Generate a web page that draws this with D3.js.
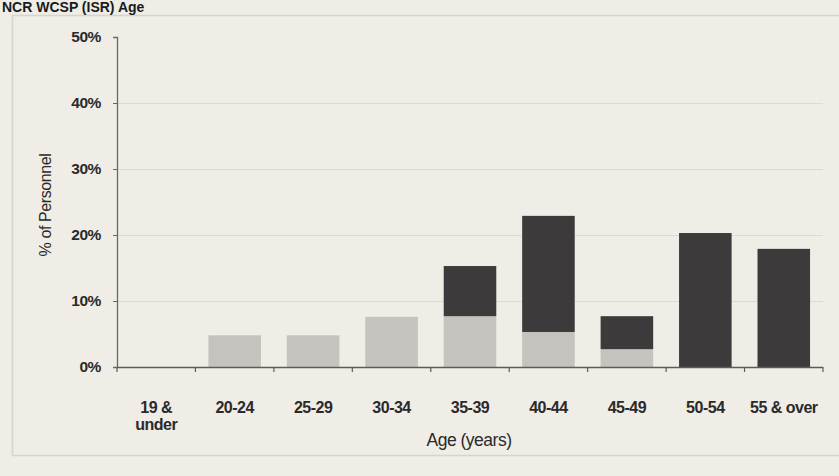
<!DOCTYPE html>
<html>
<head>
<meta charset="utf-8">
<script src="https://cdn.jsdelivr.net/npm/d3@7"></script>
<style>
  html, body { margin: 0; padding: 0; background: #efede6; }
  svg { display: block; }
</style>
</head>
<body>
<svg id="chart" width="839" height="476"></svg>
<script>
// ---- Data ----
const categories = ["19 & under", "20-24", "25-29", "30-34", "35-39", "40-44", "45-49", "50-54", "55 & over"];
const lightValues = [0, 4.8, 4.8, 7.6, 7.7, 5.3, 2.7, 0, 0];
const darkValues  = [0, 0, 0, 0, 7.6, 17.6, 5.0, 20.3, 17.9];
const yTicks = [0, 10, 20, 30, 40, 50];
const seriesNames = ["light", "dark"];
const titleText = "NCR WCSP (ISR) Age";
const yLabel = "% of Personnel";
const xLabel = "Age (years)";

// ---- Layout ----
const svg = d3.select("#chart");
const W = 839, H = 476;
const margin = { left: 117, right: 16, top: 37, bottom: 109 };
const plotW = W - margin.left - margin.right;
const plotH = H - margin.top - margin.bottom;

const font = "'Liberation Sans Narrow', 'Arial Narrow', 'Liberation Sans', Arial, sans-serif";

svg.append("rect").attr("width", W).attr("height", H).attr("fill", "#efede6");

// panel border
svg.append("rect")
  .attr("x", 12.5).attr("y", 15.5)
  .attr("width", W).attr("height", 440)
  .attr("fill", "none").attr("stroke", "#d6d4cd").attr("stroke-width", 1.5);

// title
svg.append("text")
  .attr("x", 2).attr("y", 12)
  .attr("font-family", "'Liberation Sans', Arial, sans-serif")
  .attr("font-weight", "bold")
  .attr("font-size", 14)
  .attr("fill", "#1a1a1a")
  .text(titleText);

const g = svg.append("g").attr("transform", `translate(${margin.left},${margin.top})`);

const x = d3.scaleBand().domain(categories).range([0, plotW]).paddingInner(0.33).paddingOuter(0.165);
const y = d3.scaleLinear().domain([0, 50]).range([plotH, 0]);

// gridlines
g.append("g").selectAll("line")
  .data(yTicks.filter(t => t > 0 && t < 50))
  .join("line")
  .attr("x1", 0).attr("x2", plotW)
  .attr("y1", d => y(d) + 0.5).attr("y2", d => y(d) + 0.5)
  .attr("stroke", "#dcdad3").attr("stroke-width", 1.2);

// stacked bars
const rows = categories.map((c, i) => ({ cat: c, light: lightValues[i], dark: darkValues[i] }));
const stack = d3.stack().keys(seriesNames)(rows);
const colors = { light: "#c5c3be", dark: "#3d3a3b" };

g.selectAll("g.series")
  .data(stack)
  .join("g")
  .attr("class", "series")
  .attr("fill", d => colors[d.key])
  .selectAll("rect")
  .data(d => d)
  .join("rect")
  .attr("x", d => x(d.data.cat))
  .attr("width", x.bandwidth())
  .attr("y", d => y(d[1]))
  .attr("height", d => Math.max(0, y(d[0]) - y(d[1])));

// y axis
const yAxis = g.append("g")
  .call(d3.axisLeft(y).tickValues(yTicks).tickFormat(d => d + "%").tickSize(4).tickPadding(12));
yAxis.select(".domain").attr("stroke", "#6a6865").attr("stroke-width", 1.3);
yAxis.selectAll(".tick line").attr("stroke", "#6a6865");
yAxis.selectAll("text")
  .attr("font-family", font).attr("font-size", 15.5).attr("font-weight", "bold")
  .attr("letter-spacing", "-0.4").attr("fill", "#2a2a2a");

// x axis with boundary ticks
const xAxisG = g.append("g").attr("transform", `translate(0,${plotH})`);
xAxisG.append("line")
  .attr("x1", 0).attr("x2", plotW).attr("y1", 0.5).attr("y2", 0.5)
  .attr("stroke", "#5e5c59").attr("stroke-width", 1.5);
const step = x.step();
const boundaries = d3.range(categories.length + 1).map(i => i === 0 ? 0 : (i === categories.length ? plotW : x(categories[i - 1]) + x.bandwidth() + (step - x.bandwidth()) / 2));
xAxisG.selectAll("line.bt")
  .data(boundaries)
  .join("line").attr("class", "bt")
  .attr("x1", d => d).attr("x2", d => d)
  .attr("y1", 0).attr("y2", 5)
  .attr("stroke", "#5e5c59").attr("stroke-width", 1.2);

// x tick labels
const labelLines = c => c === "19 & under" ? ["19 &", "under"] : [c];
const xl = xAxisG.selectAll("text.xl")
  .data(categories)
  .join("text").attr("class", "xl")
  .attr("x", d => x(d) + x.bandwidth() / 2)
  .attr("y", 46)
  .attr("text-anchor", "middle")
  .attr("font-family", font).attr("font-size", 16).attr("font-weight", "bold")
  .attr("letter-spacing", "-0.5").attr("fill", "#2a2a2a");
xl.each(function(d) {
  const t = d3.select(this);
  labelLines(d).forEach((ln, i) => {
    t.append("tspan").attr("x", x(d) + x.bandwidth() / 2).attr("dy", i === 0 ? 0 : 17).text(ln);
  });
});

// axis titles
svg.append("text")
  .attr("transform", `translate(51,${margin.top + 168}) rotate(-90)`)
  .attr("text-anchor", "middle")
  .attr("font-family", font).attr("font-size", 16).attr("letter-spacing", "-0.4").attr("fill", "#2a2a2a")
  .text(yLabel);

svg.append("text")
  .attr("x", 469).attr("y", 446)
  .attr("text-anchor", "middle")
  .attr("font-family", font).attr("font-size", 17.5).attr("letter-spacing", "-0.5").attr("fill", "#2a2a2a")
  .text(xLabel);
</script>
</body>
</html>
